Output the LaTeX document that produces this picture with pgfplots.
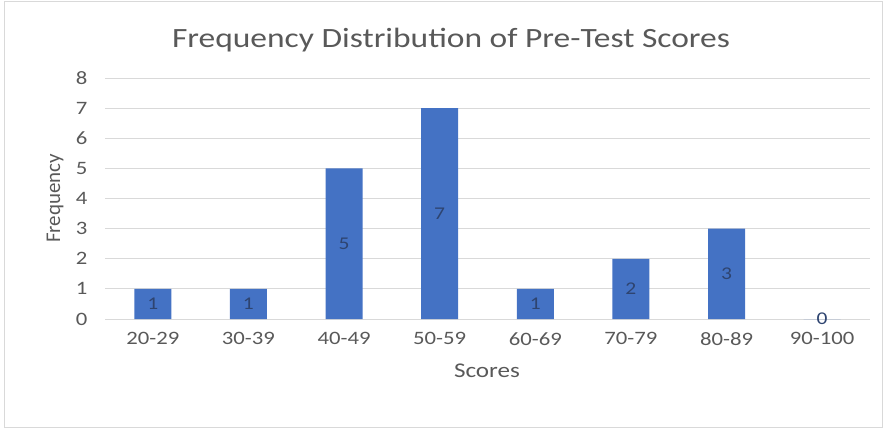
\documentclass[border=0pt]{standalone}
\usepackage{pgfplots}
\pgfplotsset{compat=1.18}
\usepackage{pgfplotstable}
\usepackage{fontspec}
\setmainfont{Carlito}[FakeStretch=1.2]
\newfontfamily\plainfont{Carlito}
\definecolor{barblue}{HTML}{4472C4}
\definecolor{txtgray}{HTML}{595959}
\definecolor{gridgray}{HTML}{D9D9D9}
\definecolor{lblcol}{HTML}{2E4470}
\pgfplotstableread{
x f
0 1
1 1
2 5
3 7
4 1
5 2
6 3
7 0
}\freq
\begin{document}
\begin{tikzpicture}[x=1bp,y=1bp]
\useasboundingbox (0,0) rectangle (883,428);
\draw[gridgray, line width=0.8bp] (4,1) rectangle (882,427);
\begin{axis}[
  at={(105bp,109bp)}, anchor=south west,
  scale only axis, width=765bp, height=241bp,
  xmin=-0.5, xmax=7.5, ymin=0, ymax=8,
  axis x line*=bottom, axis y line*=left,
  y axis line style={draw=none},
  x axis line style={gridgray, line width=1bp},
  major tick length=0pt,
  ymajorgrids, grid style={gridgray, line width=1bp},
  xtick={0,...,7},
  xticklabels={20-29,30-39,40-49,50-59,60-69,70-79,80-89,90-100},
  ytick={0,...,8},
  /pgf/number format/assume math mode=true,
  tick label style={font=\fontsize{19}{22}\selectfont, text=txtgray},
  yticklabel style={xshift=-14bp},
  xticklabel style={yshift=-10bp},
]
\addplot[ybar, bar width=37bp, fill=barblue, draw=none] table[x=x, y=f] {\freq};
\addplot[draw=none, mark=none, nodes near coords, point meta=explicit,
  every node near coord/.style={anchor=center, font=\fontsize{18}{20}\selectfont, text=lblcol}]
  table[x=x, y expr=\thisrow{f}/2, meta=f] {\freq};
\end{axis}
\node[text=txtgray, font=\fontsize{28}{32}\selectfont, anchor=base] at (451,381) {Frequency Distribution of Pre-Test Scores};
\node[text=txtgray, font=\fontsize{21}{24}\selectfont, anchor=base] at (487,51) {Scores};
\node[text=txtgray, font=\plainfont\fontsize{21}{24}\selectfont, rotate=90, anchor=base] at (60,229.5) {Frequency};
\end{tikzpicture}
\end{document}
